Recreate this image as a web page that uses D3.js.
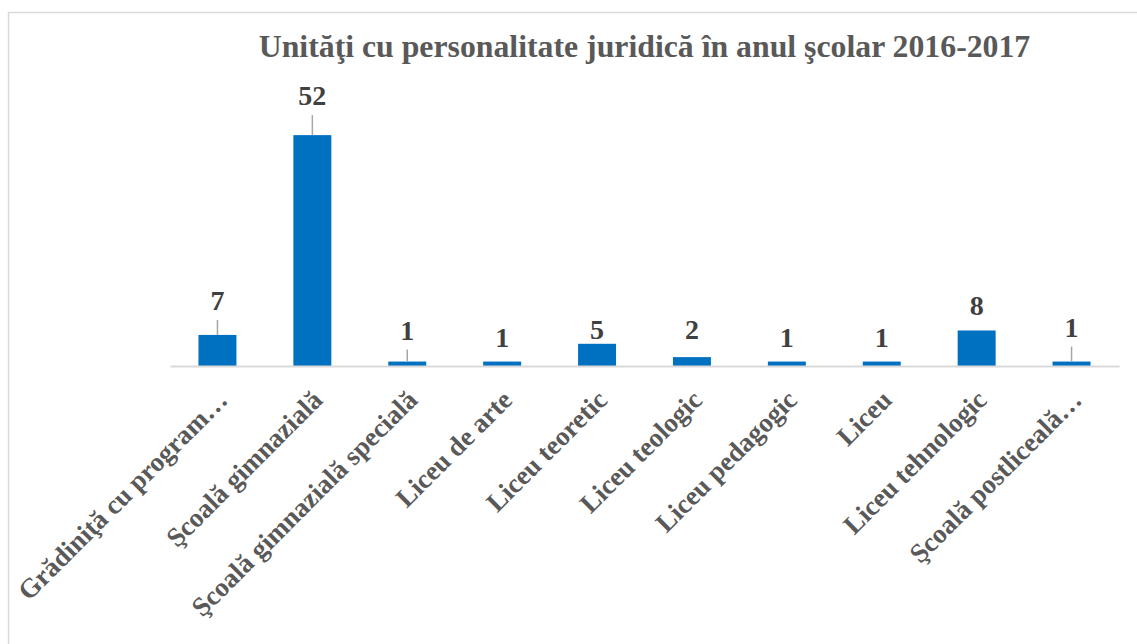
<!DOCTYPE html>
<html>
<head>
<meta charset="utf-8">
<script src="https://cdn.jsdelivr.net/npm/d3@7"></script>
<style>
  body { margin: 0; background: #fff; }
  svg { display: block; }
</style>
</head>
<body>
<svg width="1137" height="644"></svg>
<script>
// data
const categories = [
    "Grădiniţă cu program…",
    "Şcoală gimnazială",
    "Şcoală gimnazială specială",
    "Liceu de arte",
    "Liceu teoretic",
    "Liceu teologic",
    "Liceu pedagogic",
    "Liceu",
    "Liceu tehnologic",
    "Şcoală postliceală…"
];
const values = [7, 52, 1, 1, 5, 2, 1, 1, 8, 1];
const title = "Unităţi cu personalitate juridică în anul şcolar 2016-2017";

// label gap above each bar (px), as placed in the original; >20 gets a leader line
const labelGap = [25, 30, 22, 15, 5, 18, 15, 15, 15, 25];

var svg = d3.select("svg");
var width = +svg.attr("width");
var height = +svg.attr("height");

const font = "'Liberation Serif', 'Times New Roman', serif";

// chart border
svg.append("rect")
    .attr("x", 8.5)
    .attr("y", 12.5)
    .attr("width", width)
    .attr("height", height)
    .attr("fill", "none")
    .attr("stroke", "#d9d9d9")
    .attr("stroke-width", 1.5);

let x = d3.scaleBand()
    .domain(categories)
    .range([170, 1119])
    .paddingInner(0.6)
    .paddingOuter(0.3);

let y = d3.scaleLinear()
    .domain([0, 60])
    .range([366, 99.6]);

// title
let t = svg.append("text")
    .attr("x", 644.5)
    .attr("y", 57)
    .attr("text-anchor", "middle")
    .attr("font-family", font)
    .attr("font-weight", "bold")
    .attr("font-size", 28)
    .attr("fill", "#595959")
    .text(title);
let tw = t.node().getComputedTextLength();
t.attr("font-size", 28 * 772 / tw);

let rows = categories.map((c, i) => ({ cat: c, value: values[i], gap: labelGap[i] }));

// bars
svg.append("g")
    .selectAll("rect")
    .data(rows)
    .enter()
    .append("rect")
    .attr("x", d => x(d.cat))
    .attr("y", d => y(d.value))
    .attr("width", x.bandwidth())
    .attr("height", d => y(0) - y(d.value))
    .attr("fill", "#0070c0");

// axis
let xAxis = svg.append("g")
    .attr("transform", "translate(0," + y(0) + ")")
    .call(d3.axisBottom(x).tickSize(0).tickSizeOuter(0).tickPadding(0));
xAxis.select(".domain")
    .attr("stroke", "#d9d9d9")
    .attr("stroke-width", 2);
xAxis.selectAll(".tick text")
    .attr("font-family", font)
    .attr("font-weight", "bold")
    .attr("font-size", 27)
    .attr("fill", "#595959")
    .attr("text-anchor", "end")
    .attr("dy", "0.35em")
    .attr("transform", "translate(5,29) rotate(-45)");

// leader lines
svg.append("g")
    .selectAll("line")
    .data(rows.filter(d => d.gap > 20))
    .enter()
    .append("line")
    .attr("x1", d => x(d.cat) + x.bandwidth() / 2)
    .attr("x2", d => x(d.cat) + x.bandwidth() / 2)
    .attr("y1", d => y(d.value) - d.gap + 10)
    .attr("y2", d => y(d.value))
    .attr("stroke", "#a6a6a6")
    .attr("stroke-width", 1.5);

// value labels
svg.append("g")
    .selectAll("text")
    .data(rows)
    .enter()
    .append("text")
    .attr("x", d => x(d.cat) + x.bandwidth() / 2)
    .attr("y", d => y(d.value) - d.gap)
    .attr("text-anchor", "middle")
    .attr("font-family", font)
    .attr("font-weight", "bold")
    .attr("font-size", 28)
    .attr("fill", "#404040")
    .text(d => d.value);
</script>
</body>
</html>
